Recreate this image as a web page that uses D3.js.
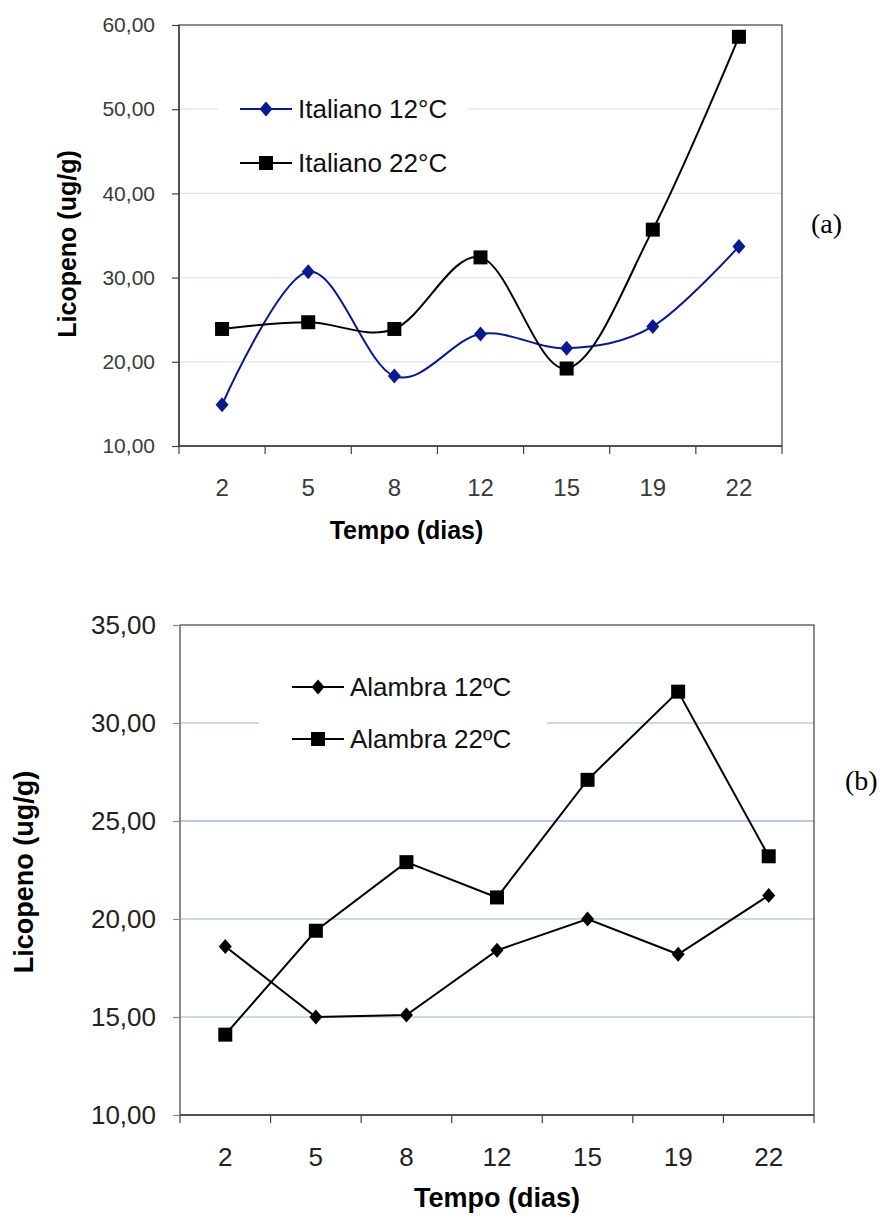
<!DOCTYPE html>
<html>
<head>
<meta charset="utf-8">
<script src="https://cdn.jsdelivr.net/npm/d3@7"></script>
<style>
  html, body { margin: 0; padding: 0; background: #fff; }
  svg { display: block; font-family: "Liberation Sans", Arial, sans-serif; }
</style>
</head>
<body>
<svg id="chart" width="882" height="1221"></svg>
<script>
// dias de armazenamento
var dias = ['2', '5', '8', '12', '15', '19', '22'];

// (a) tomate Italiano
var italiano12 = [14.9, 30.7, 18.3, 23.3, 21.6, 24.2, 33.7];
var italiano22 = [23.9, 24.7, 23.9, 32.4, 19.2, 35.7, 58.6];
var ticksA = [10, 20, 30, 40, 50, 60];

// (b) tomate Alambra
var alambra12 = [18.6, 15.0, 15.1, 18.4, 20.0, 18.2, 21.2];
var alambra22 = [14.1, 19.4, 22.9, 21.1, 27.1, 31.6, 23.2];
var ticksB = [10, 15, 20, 25, 30, 35];

var ptBR = d3.formatLocale({decimal: ',', thousands: '.', grouping: [3], currency: ['R$', '']});
var fmt = ptBR.format('.2f');

var svg = d3.select('#chart');

function drawChart(opts) {
  var g = svg.append('g');
  var x = d3.scaleBand().domain(dias).range([opts.left, opts.right]).padding(0);
  var y = d3.scaleLinear().domain([opts.ticks[0], opts.ticks[opts.ticks.length - 1]])
    .range([opts.bottom, opts.top]);

  // linhas de grade
  g.selectAll('line.grid')
    .data(opts.ticks.slice(1, -1))
    .enter().append('line')
    .attr('x1', opts.left).attr('x2', opts.right)
    .attr('y1', function(d) { return y(d); })
    .attr('y2', function(d) { return y(d); })
    .attr('stroke', function(d) { return d === opts.darkGrid ? opts.gridDark : opts.gridColor; })
    .attr('stroke-width', opts.gridWidth);

  // moldura da área do gráfico
  g.append('rect')
    .attr('x', opts.left).attr('y', opts.top)
    .attr('width', opts.right - opts.left).attr('height', opts.bottom - opts.top)
    .attr('fill', 'none').attr('stroke', '#404040').attr('stroke-width', 1.2);
  g.append('line')
    .attr('x1', opts.left).attr('x2', opts.left)
    .attr('y1', opts.top).attr('y2', opts.bottom)
    .attr('stroke', opts.yAxisColor).attr('stroke-width', 1.5);

  // eixo y
  var yAxis = d3.axisLeft(y).tickValues(opts.ticks).tickFormat(fmt).tickSize(7).tickPadding(17);
  var ya = g.append('g').attr('transform', 'translate(' + opts.left + ',0)').call(yAxis);
  ya.select('.domain').remove();
  ya.selectAll('.tick line').attr('stroke', opts.yAxisColor).attr('stroke-width', 1.2);
  ya.selectAll('.tick text')
    .attr('fill', opts.tickColor)
    .style('font-size', opts.yTickSize + 'px')
    .style('font-family', '"Liberation Sans", Arial, sans-serif');

  // eixo x: marcas nas bordas das categorias
  var bounds = dias.map(function(d) { return x(d); }).concat([x(dias[dias.length - 1]) + x.bandwidth()]);
  g.selectAll('line.xt')
    .data(bounds)
    .enter().append('line')
    .attr('x1', function(d) { return d; }).attr('x2', function(d) { return d; })
    .attr('y1', opts.bottom).attr('y2', opts.bottom + 8)
    .attr('stroke', '#404040').attr('stroke-width', 1.2);
  g.append('line')
    .attr('x1', opts.left).attr('x2', opts.right)
    .attr('y1', opts.bottom).attr('y2', opts.bottom)
    .attr('stroke', '#404040').attr('stroke-width', 1.5);

  g.selectAll('text.xl')
    .data(dias)
    .enter().append('text')
    .attr('x', function(d) { return x(d) + x.bandwidth() / 2; })
    .attr('y', opts.xTickBase)
    .attr('text-anchor', 'middle')
    .attr('fill', opts.tickColor)
    .style('font-size', opts.xTickSize + 'px')
    .text(function(d) { return d; });

  // títulos dos eixos
  g.append('text')
    .attr('x', (opts.left + opts.right) / 2 + opts.xTitleShift)
    .attr('y', opts.xTitleBase)
    .attr('text-anchor', 'middle')
    .style('font-size', opts.titleSize + 'px').style('font-weight', 'bold')
    .text('Tempo (dias)');
  g.append('text')
    .attr('transform', 'translate(' + opts.yTitleX + ',' + opts.yTitleY + ') rotate(-90)')
    .attr('text-anchor', 'middle')
    .style('font-size', opts.titleSize + 'px').style('font-weight', 'bold')
    .text('Licopeno (ug/g)');

  // séries
  var cx = function(d, i) { return x(dias[i]) + x.bandwidth() / 2; };
  var line = d3.line().x(cx).y(function(d) { return y(d); }).curve(opts.curve);
  var diamond = function(w, h) {
    return 'M0,' + (-h) + 'L' + w + ',0L0,' + h + 'L' + (-w) + ',0Z';
  };

  opts.series.forEach(function(s) {
    g.append('path')
      .datum(s.values)
      .attr('d', line)
      .attr('fill', 'none')
      .attr('stroke', s.color)
      .attr('stroke-width', 2);
    var m = g.selectAll(null).data(s.values).enter();
    if (s.marker === 'square') {
      m.append('rect')
        .attr('x', function(d, i) { return cx(d, i) - 7; })
        .attr('y', function(d) { return y(d) - 7; })
        .attr('width', 14).attr('height', 14)
        .attr('fill', s.color);
    } else {
      m.append('path')
        .attr('transform', function(d, i) { return 'translate(' + cx(d, i) + ',' + y(d) + ')'; })
        .attr('d', diamond(6.5, 7.5))
        .attr('fill', s.color);
    }
  });

  // legenda
  var lg = g.append('g');
  lg.append('rect')
    .attr('x', opts.legend.x0).attr('y', opts.legend.y0)
    .attr('width', opts.legend.x1 - opts.legend.x0).attr('height', opts.legend.h)
    .attr('fill', '#fff');
  opts.series.forEach(function(s, i) {
    var ly = opts.legend.y + i * opts.legend.gap;
    lg.append('line')
      .attr('x1', opts.legend.lx).attr('x2', opts.legend.lx + 52)
      .attr('y1', ly).attr('y2', ly)
      .attr('stroke', s.color).attr('stroke-width', 2);
    var mx = opts.legend.lx + 26;
    if (s.marker === 'square') {
      lg.append('rect').attr('x', mx - 7).attr('y', ly - 7).attr('width', 14).attr('height', 14).attr('fill', s.color);
    } else {
      lg.append('path').attr('transform', 'translate(' + mx + ',' + ly + ')')
        .attr('d', diamond(6.5, 7.5)).attr('fill', s.color);
    }
    lg.append('text')
      .attr('x', opts.legend.lx + 58).attr('y', ly + 9)
      .style('font-size', '26px')
      .attr('fill', '#111')
      .text(s.name);
  });

  // rótulo do painel
  g.append('text')
    .attr('x', opts.panelX).attr('y', opts.panelY)
    .style('font-family', '"Liberation Serif", "Times New Roman", serif')
    .style('font-size', '28px')
    .text(opts.panel);
}

drawChart({
  left: 179, right: 782, top: 25, bottom: 446,
  ticks: ticksA,
  gridColor: '#dce5f5', gridDark: '#dce5f5', darkGrid: null, gridWidth: 1.3,
  yAxisColor: '#404040', tickColor: '#3a3a3a',
  yTickSize: 21, xTickSize: 24, xTickBase: 496,
  titleSize: 25, xTitleBase: 539, xTitleShift: -74,
  yTitleX: 76, yTitleY: 244,
  curve: d3.curveCardinal.tension(0),
  series: [
    {name: 'Italiano 12°C', values: italiano12, color: '#0a1a8c', marker: 'diamond'},
    {name: 'Italiano 22°C', values: italiano22, color: '#000', marker: 'square'}
  ],
  legend: {x0: 218, x1: 468, y0: 82, h: 104, y: 109, gap: 54, lx: 240},
  panel: '(a)', panelX: 811, panelY: 233
});

drawChart({
  left: 180, right: 814, top: 625, bottom: 1115,
  ticks: ticksB,
  gridColor: '#cbd9ee', gridDark: '#b8cce6', darkGrid: 25, gridWidth: 2,
  yAxisColor: '#8a8a8a', tickColor: '#222',
  yTickSize: 26, xTickSize: 26, xTickBase: 1166,
  titleSize: 27, xTitleBase: 1207, xTitleShift: 0,
  yTitleX: 33, yTitleY: 872,
  curve: d3.curveLinear,
  series: [
    {name: 'Alambra 12ºC', values: alambra12, color: '#000', marker: 'diamond'},
    {name: 'Alambra 22ºC', values: alambra22, color: '#000', marker: 'square'}
  ],
  legend: {x0: 259, x1: 547, y0: 660, h: 105, y: 687, gap: 52, lx: 292},
  panel: '(b)', panelX: 845, panelY: 790
});
</script>
</body>
</html>
